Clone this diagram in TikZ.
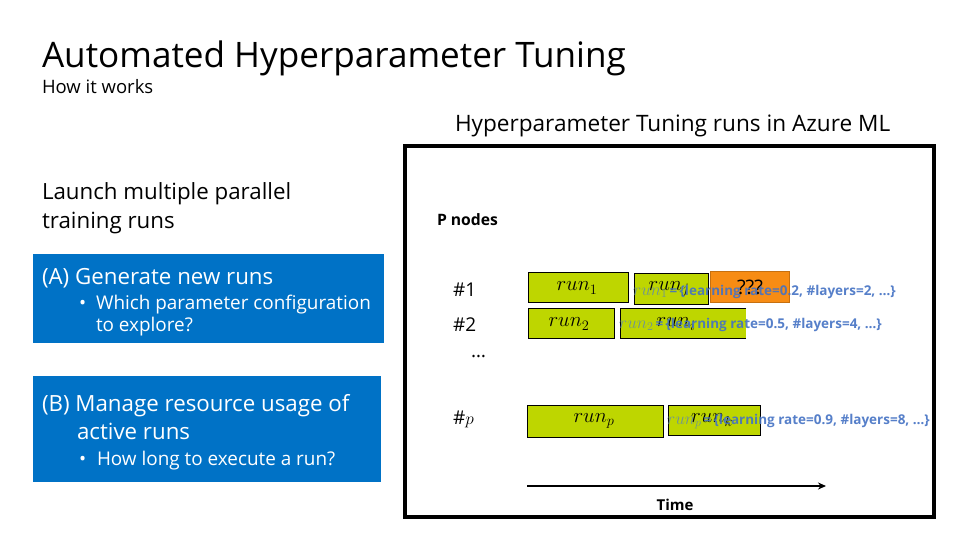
\documentclass[tikz,border=0pt]{standalone}
\usepackage{fontspec}
\setmainfont{Open Sans}
\usepackage{amsmath}
\usetikzlibrary{arrows.meta}
\definecolor{msblue}{RGB}{0,114,198}
\definecolor{rungreen}{RGB}{190,214,0}
\definecolor{qorange}{RGB}{247,140,20}
\definecolor{cfgblue}{RGB}{68,114,196}
\definecolor{cfgmath}{RGB}{100,140,165}
\tikzset{
  txt/.style={anchor=base west, inner sep=0pt, outer sep=0pt},
  wtxt/.style={txt, text=white},
  runbox/.style={fill=rungreen, draw=black, line width=0.8pt, inner sep=0pt},
  qbox/.style={fill=qorange, draw=qorange!80!black, line width=0.8pt, inner sep=0pt},
  runlbl/.style={font=\fontsize{22.5}{26}\selectfont, inner sep=0pt},
  cfg/.style={anchor=base west, inner sep=0pt, text=cfgblue, font=\fontsize{13.5}{16}\selectfont\bfseries, opacity=0.9},
}
\newcommand{\cfgrun}[1]{\textcolor{cfgmath}{\fontsize{17}{20}\selectfont$run_{#1}$}\,=\,}
\begin{document}
\begin{tikzpicture}[x=1pt,y=-1pt]
\useasboundingbox (0,0) rectangle (960,540);
\fill[white] (0,0) rectangle (960,540);
% titles
\node[txt, font=\fontsize{35.1}{40}\selectfont] (title) at (42,68) {Automated Hyperparameter Tuning};
\node[txt, font=\fontsize{18.5}{22}\selectfont] (sub) at (42,94) {How it works};
\node[txt, font=\fontsize{22.6}{26}\selectfont] (azure) at (455,132) {Hyperparameter Tuning runs in Azure ML};
% left
\node[txt, font=\fontsize{22.3}{26}\selectfont] (launch1) at (42,199) {Launch multiple parallel};
\node[txt, font=\fontsize{22.3}{26}\selectfont] (launch2) at (42,228) {training runs};
\fill[msblue] (33,254) rectangle (384,343);
\node[wtxt, font=\fontsize{22.3}{26}\selectfont] (a1) at (42,284) {(A) Generate new runs};
\node[wtxt, font=\fontsize{18.9}{22}\selectfont] (a2b) at (79,309) {•};
\node[wtxt, font=\fontsize{18.9}{22}\selectfont] (a2) at (96,309) {Which parameter configuration};
\node[wtxt, font=\fontsize{18.9}{22}\selectfont] (a3) at (96,331) {to explore?};
\fill[msblue] (33,376) rectangle (381,482);
\node[wtxt, font=\fontsize{22.3}{26}\selectfont] (b1) at (42,411) {(B) Manage resource usage of};
\node[wtxt, font=\fontsize{22.3}{26}\selectfont] (b2) at (77,439) {active runs};
\node[wtxt, font=\fontsize{18.9}{22}\selectfont] (b3b) at (79,465) {•};
\node[wtxt, font=\fontsize{18.9}{22}\selectfont] (b3) at (97,465) {How long to execute a run?};
% right frame
\draw[line width=3.5pt] (405,146) rectangle (934,517);
\node[txt, font=\fontsize{15.7}{19}\selectfont\bfseries] (pn) at (437,225) {P nodes};
\node[txt, font=\fontsize{19}{22}\selectfont] (n1) at (453,296) {\#1};
\node[txt, font=\fontsize{19}{22}\selectfont] (n2) at (453,331) {\#2};
\node[txt, font=\fontsize{19}{22}\selectfont] (dots) at (471,357) {…};
\node[txt, font=\fontsize{19}{22}\selectfont] (np) at (453,424) {\#$p$};
% run boxes
\draw[runbox] (528,272) rectangle (628,302);
\node[runlbl] (r1) at (577,288) {$run_1$};
\draw[runbox] (634,273) rectangle (708,304);
\node[runlbl] (rj) at (669,289) {$run_j$};
\draw[qbox] (710,271) rectangle (789,302);
\node[font=\fontsize{20}{24}\selectfont, inner sep=0pt] (q) at (750,287) {???};
\draw[runbox] (528,308) rectangle (614,338);
\node[runlbl] (r2) at (569,324) {$run_2$};
\fill[rungreen] (620,308) rectangle (746,338);
\draw[line width=0.8pt] (746,308) -- (620,308) -- (620,338) -- (746,338);
\node[runlbl] (ri) at (676,324) {$run_i$};
\draw[runbox] (527,405) rectangle (663,437);
\node[runlbl] (rp) at (594,421) {$run_p$};
\draw[runbox] (668,405) rectangle (760,435);
\node[runlbl] (rk) at (712,420) {$run_k$};
% config texts
\node[cfg] (c1) at (633,295) {\cfgrun{1}\{learning rate=0.2, \#layers=2, …\}};
\node[cfg] (c2) at (619,328) {\cfgrun{2}\{learning rate=0.5, \#layers=4, …\}};
\node[cfg] (c3) at (667,424) {\cfgrun{p}\{learning rate=0.9, \#layers=8, …\}};
% time axis
\coordinate (t0) at (527,486);
\coordinate (t1) at (826,486);
\draw[line width=1.8pt, -{Stealth[length=8pt,width=7pt]}] (t0) -- (t1);
\node[anchor=base, inner sep=0pt, font=\fontsize{15}{18}\selectfont\bfseries] (time) at (675,510) {Time};
\end{tikzpicture}
\end{document}
